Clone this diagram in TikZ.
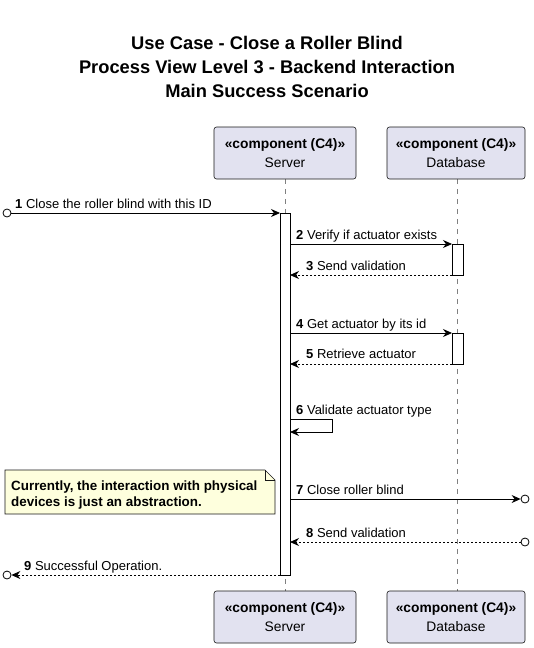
\documentclass[tikz,border=0pt]{standalone}
\usepackage{fontspec}
\setmainfont{Liberation Sans}
\usetikzlibrary{arrows.meta}
\definecolor{partfill}{HTML}{E2E2F0}
\definecolor{partline}{HTML}{181818}
\definecolor{notefill}{HTML}{FEFFDD}
\definecolor{lifegray}{HTML}{808080}
\tikzset{
  part/.style={draw=partline, fill=partfill, rounded corners=2.5pt, line width=0.6pt, minimum width=142pt, minimum height=52pt, inner sep=0pt, align=center, font=\fontsize{13.8}{19}\selectfont},
  lifeline/.style={draw=lifegray, dash pattern=on 5pt off 5pt, line width=0.6pt},
  actbox/.style={draw=black, fill=white, line width=0.8pt},
  msg/.style={draw=black, line width=0.8pt, -{Stealth[length=9pt,width=8pt,inset=3pt]}},
  rmsg/.style={msg, dash pattern=on 2pt off 2pt},
  lbl/.style={anchor=base west, inner sep=0pt, font=\fontsize{13}{14}\selectfont},
  ttl/.style={anchor=base, inner sep=0pt, font=\fontsize{18.3}{20}\selectfont\bfseries},
  endc/.style={draw=black, fill=white, line width=0.8pt, circle, minimum size=8pt, inner sep=0pt},
  notetext/.style={anchor=base west, inner sep=0pt, font=\fontsize{13.4}{14}\selectfont\bfseries}
}
\begin{document}
\begin{tikzpicture}[x=1pt,y={(0pt,-1pt)}]
\useasboundingbox (0,0) rectangle (534,648);
% title
\node[ttl] (t1) at (267,49) {Use Case - Close a Roller Blind};
\node[ttl] (t2) at (267,73) {Process View Level 3 - Backend Interaction};
\node[ttl] (t3) at (267,97) {Main Success Scenario};
% lifelines
\coordinate (sTop) at (285,179);
\coordinate (sBot) at (285,591);
\coordinate (dTop) at (457,179);
\coordinate (dBot) at (457,591);
\draw[lifeline] (sTop) -- (sBot);
\draw[lifeline] (dTop) -- (dBot);
% participants
\node[part] (srvT) at (285,153) {\textbf{«component (C4)»}\\Server};
\node[part, minimum width=138pt] (dbT) at (456,153) {\textbf{«component (C4)»}\\Database};
\node[part] (srvB) at (285,617) {\textbf{«component (C4)»}\\Server};
\node[part, minimum width=138pt] (dbB) at (456,617) {\textbf{«component (C4)»}\\Database};
% activations
\draw[actbox] (280,213) rectangle (290,575);
\draw[actbox] (452,244) rectangle (463,275);
\draw[actbox] (452,333) rectangle (463,364);
% coordinates
\node[endc] (c1) at (7,213) {};
\coordinate (a1) at (280,213);
\coordinate (s2) at (290,244);
\coordinate (d2) at (452,244);
\coordinate (d3) at (452,275);
\coordinate (s3) at (290,275);
\coordinate (s4) at (290,333);
\coordinate (d4) at (452,333);
\coordinate (d5) at (452,364);
\coordinate (s5) at (290,364);
\coordinate (s6a) at (290,419);
\coordinate (s6b) at (332,419);
\coordinate (s6c) at (332,432);
\coordinate (s6d) at (290,432);
\coordinate (s7) at (290,499);
\node[endc] (c7) at (525,499) {};
\node[endc] (c8) at (525,542) {};
\coordinate (s8) at (290,542);
\coordinate (s9) at (280,575);
\node[endc] (c9) at (7,575) {};
% messages
\draw[msg] (c1) -- (a1);
\node[lbl] (l1) at (15,208) {\textbf{1} Close the roller blind with this ID};
\draw[msg] (s2) -- (d2);
\node[lbl] (l2) at (296,239) {\textbf{2} Verify if actuator exists};
\draw[rmsg] (d3) -- (s3);
\node[lbl] (l3) at (306,270) {\textbf{3} Send validation};
\draw[msg] (s4) -- (d4);
\node[lbl] (l4) at (296,328) {\textbf{4} Get actuator by its id};
\draw[rmsg] (d5) -- (s5);
\node[lbl] (l5) at (306,358) {\textbf{5} Retrieve actuator};
\draw[msg] (s6a) -- (s6b) -- (s6c) -- (s6d);
\node[lbl] (l6) at (296,414) {\textbf{6} Validate actuator type};
\draw[msg] (s7) -- (c7);
\node[lbl] (l7) at (296,494) {\textbf{7} Close roller blind};
\draw[rmsg] (c8) -- (s8);
\node[lbl] (l8) at (306,537) {\textbf{8} Send validation};
\draw[rmsg] (s9) -- (c9);
\node[lbl] (l9) at (24,570) {\textbf{9} Successful Operation.};
% note
\coordinate (n1) at (5,470);
\coordinate (n2) at (265,470);
\coordinate (n3) at (275,480);
\coordinate (n4) at (275,514);
\coordinate (n5) at (5,514);
\draw[draw=partline, fill=notefill, line width=0.6pt] (n1) -- (n2) -- (n3) -- (n4) -- (n5) -- cycle;
\draw[draw=partline, line width=0.6pt] (n2) -- (265,480) -- (n3);
\node[notetext] (nt1) at (11,490) {Currently, the interaction with physical};
\node[notetext] (nt2) at (11,506) {devices is just an abstraction.};
\end{tikzpicture}
\end{document}
